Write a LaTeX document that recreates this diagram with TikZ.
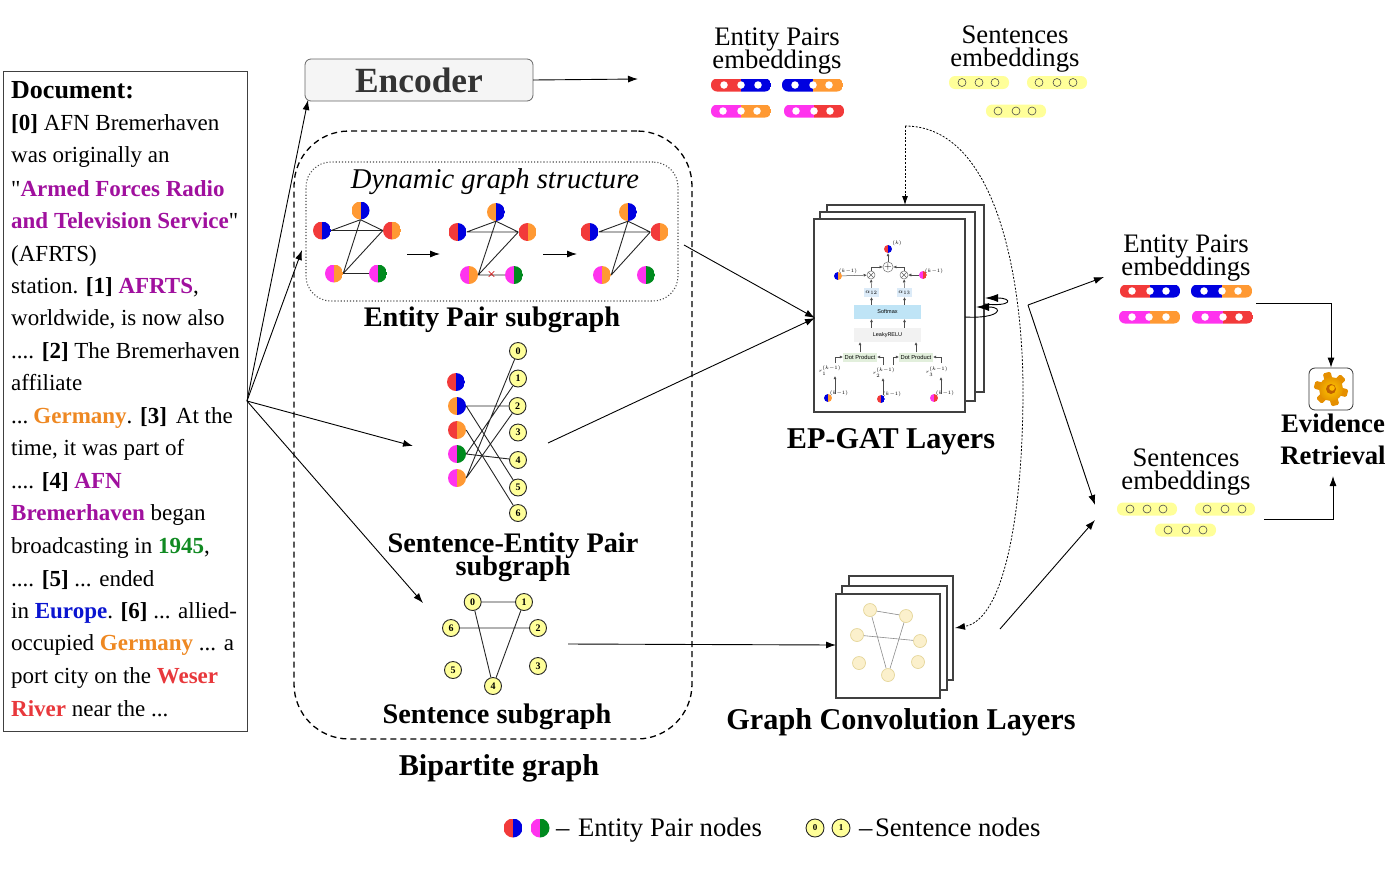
\documentclass[tikz,border=0pt]{standalone}
\usepackage{fontspec}
\setmainfont{Liberation Serif}
\setsansfont{Liberation Sans}
\newfontfamily\plainq{Liberation Serif}
\usetikzlibrary{arrows.meta,calc}
\definecolor{cR}{HTML}{F23A3A}
\definecolor{cB}{HTML}{0000E0}
\definecolor{cO}{HTML}{FF9933}
\definecolor{cM}{HTML}{FF33EE}
\definecolor{cG}{HTML}{008A1E}
\definecolor{cY}{HTML}{FFFF99}
\definecolor{tP}{HTML}{A0109E}
\definecolor{tO}{HTML}{EE8822}
\definecolor{tG}{HTML}{118A22}
\definecolor{tB}{HTML}{0A14D0}
\definecolor{tR}{HTML}{E8383C}
\definecolor{sky}{HTML}{BFE4F6}
\definecolor{skyb}{HTML}{DCEBF8}
\definecolor{mint}{HTML}{E2EFDC}
\definecolor{gcf}{HTML}{FBF0CC}
\definecolor{gcd}{HTML}{E5D69A}
\newcommand\fsz[1]{\fontsize{#1}{#1}\selectfont}
\newcommand\cpur[1]{\textcolor{tP}{\textbf{#1}}}
\newcommand\cora[1]{\textcolor{tO}{\textbf{#1}}}
\newcommand\cgrn[1]{\textcolor{tG}{\textbf{#1}}}
\newcommand\cblu[1]{\textcolor{tB}{\textbf{#1}}}
\newcommand\cred[1]{\textcolor{tR}{\textbf{#1}}}
\newcommand\sq{{\plainq "}}
\tikzset{
 halves/.style 2 args={path picture={
   \fill[#1,sharp corners] (path picture bounding box.north west) rectangle (path picture bounding box.south);
   \fill[#2,sharp corners] (path picture bounding box.north) rectangle (path picture bounding box.south east);}},
 epn/.style={circle,inner sep=0pt,minimum size=18pt},
 epl/.style={circle,inner sep=0pt,minimum size=19pt},
 epg/.style={circle,inner sep=0pt,minimum size=8pt},
 sn/.style={circle,draw=black!85,line width=0.9pt,fill=cY,inner sep=0pt,minimum size=17pt,font=\fsz{10}\bfseries},
 bar/.style={rectangle,rounded corners=6pt,inner sep=0pt,minimum height=13pt},
 dotw/.style={circle,fill=white,inner sep=0pt,minimum size=7.5pt},
 doty/.style={circle,draw=black!70,line width=0.6pt,fill=none,inner sep=0pt,minimum size=8pt},
 txt/.style={inner sep=0pt,anchor=base,font=\fsz{26.7}},
 btxt/.style={inner sep=0pt,anchor=base,font=\fsz{28.3}\bfseries},
 bbtxt/.style={inner sep=0pt,anchor=base,font=\fsz{30.2}\bfseries},
 etxt/.style={inner sep=0pt,anchor=base,font=\fsz{26.7}\bfseries},
 dl/.style={anchor=base west,inner sep=0pt,font=\fsz{23}},
 arr/.style={-{Latex[length=10pt,width=7pt]},line width=0.9pt},
 edge/.style={line width=0.9pt,black!85},
 gate/.style={circle,draw=black!55,fill=white,inner sep=0pt,minimum size=8pt,line width=0.5pt},
 tiny/.style={-{Latex[length=3pt,width=3pt]},line width=0.5pt,black!70},
 tinyt/.style={inner sep=0pt,font=\fsz{5.5}},
 stk/.style={draw=black!75,line width=1.1pt,fill=white,inner sep=0pt},
 gc/.style={circle,draw=gcd,line width=0.7pt,fill=gcf,inner sep=0pt,minimum size=13pt},
 gce/.style={line width=0.6pt,black!45},
}
% rectangle-like node from corners
\newcommand\rectn[6]{\pgfmathsetmacro\wa{#4-#2}\pgfmathsetmacro\ha{#5-#3}%
 \node[#6,rectangle,minimum width=\wa pt,minimum height=\ha pt] (#1) at ({(#2+#4)/2},{(#3+#5)/2}) {};}
% embedding bar
\newcommand\embar[9]{\pgfmathsetmacro\wa{#3-#2}%
 \node[bar,halves={#5}{#6},minimum width=\wa pt] (#1) at ({(#2+#3)/2},#4) {};
 \node[dotw] (#1a) at (#7,#4) {};\node[dotw] (#1b) at (#8,#4) {};\node[dotw] (#1c) at (#9,#4) {};}
\newcommand\sembar[7]{\pgfmathsetmacro\wa{#3-#2}%
 \node[bar,fill=cY,minimum width=\wa pt] (#1) at ({(#2+#3)/2},#4) {};
 \node[doty] (#1a) at (#5,#4) {};\node[doty] (#1b) at (#6,#4) {};\node[doty] (#1c) at (#7,#4) {};}
% dynamic graph
\newcommand\dyn[6]{% prefix, top x,y offset
 \node[epn,halves={cO}{cB}] (#1t) at (#2,#3) {};
 \node[epn,halves={cR}{cB}] (#1l) at ({#2-38.5},{#3+20}) {};
 \node[epn,halves={cR}{cO}] (#1r) at ({#2+31.5},{#3+20}) {};
 \node[epn,halves={cM}{cO}] (#1p) at ({#2-#4},{#3+63}) {};
 \node[epn,halves={cM}{cG}] (#1q) at ({#2+#5},{#3+63}) {};
 \draw[edge] (#1t.south)--(#1l.east) (#1l.east)--(#1r.west) (#1t.south)--(#1r.west)
   (#1t.south)--(#1p.east) (#1r.west)--(#1p.east) #6;}
\begin{document}
\begin{tikzpicture}[x=1pt,y=-1pt]
\useasboundingbox (0,0) rectangle (1400,879);
% Document
\rectn{docbox}{3}{71}{247}{731}{draw=black!75,line width=0.9pt}
\node[dl,font=\fsz{26}\bfseries] (d00) at (11,98) {Document:};
\node[dl] (d01) at (11,130.7) {\textbf{[0]} AFN Bremerhaven};
\node[dl] (d02) at (11,162.7) {was originally an};
\node[dl] (d03) at (11,196) {\sq\cpur{Armed Forces Radio}};
\node[dl] (d04) at (11,228) {\cpur{and Television Service}\sq};
\node[dl] (d05) at (11,261) {(AFRTS)};
\node[dl] (d06) at (11,293) {station. \textbf{[1]} \cpur{AFRTS},};
\node[dl] (d07) at (11,325.7) {worldwide, is now also};
\node[dl] (d08) at (11,358) {.... \textbf{[2]} The Bremerhaven};
\node[dl] (d09) at (11,390.7) {affiliate};
\node[dl] (d10) at (11,423) {...\hspace{5pt}\cora{Germany}. \textbf{[3]}\hspace{9pt}At the};
\node[dl] (d11) at (11,455) {time, it was part of};
\node[dl] (d12) at (11,488) {.... \textbf{[4]} \cpur{AFN}};
\node[dl] (d13) at (11,520) {\cpur{Bremerhaven} began};
\node[dl] (d14) at (11,553) {broadcasting in \cgrn{1945},};
\node[dl] (d15) at (11,586) {.... \textbf{[5]} ... ended};
\node[dl] (d16) at (11,618) {in \cblu{Europe}. \textbf{[6]} ... allied-};
\node[dl] (d17) at (11,650) {occupied \cora{Germany} ... a};
\node[dl] (d18) at (11,683) {port city on the \cred{Weser}};
\node[dl] (d19) at (11,716) {\cred{River} near the ...};
% Encoder
\node[rectangle,rounded corners=6pt,draw=black!60,line width=0.8pt,fill=black!4,minimum width=228pt,minimum height=42pt,inner sep=0pt,font=\fsz{35.4}\bfseries,text=black!80] (enc) at (419,80) {\raisebox{-4pt}{Encoder}};
% Containers
\rectn{bip}{294}{131}{692}{739}{draw=black,line width=1.3pt,dash pattern=on 6pt off 4pt,rounded corners=55pt}
\rectn{dynbox}{306}{162}{678}{301}{draw=black!70,line width=1.1pt,dotted,rounded corners=25pt}
\node[inner sep=0pt,anchor=base,font=\fsz{28.6}\itshape] (dyt) at (495,188) {Dynamic graph structure};
% Dynamic graphs
\dyn{a}{360.5}{210.5}{26.5}{17.5}{(ap.east)--(aq.west)}
\dyn{b}{496}{212}{27}{18}{(bp.east)--(bq.west)}
\dyn{c}{628}{212}{26}{18}{}
\node[inner sep=0pt,font=\fsz{15},text=red!80!black] (xm) at (491.5,275) {×};
\coordinate (a1) at (407,254);\coordinate (a2) at (440,254);
\coordinate (a3) at (543,254);\coordinate (a4) at (577,254);
\draw[arr] (a1)--(a2);\draw[arr] (a3)--(a4);
\node[btxt] (eps) at (492,326) {Entity Pair subgraph};
% Sentence-Entity Pair subgraph
\node[epn,halves={cR}{cB}] (e0) at (456,382) {};
\node[epn,halves={cO}{cB}] (e1) at (457,406) {};
\node[epn,halves={cR}{cO}] (e2) at (457,430) {};
\node[epn,halves={cM}{cG}] (e3) at (457,454) {};
\node[epn,halves={cM}{cO}] (e4) at (457,478) {};
\node[sn] (s0) at (518,351) {0};
\node[sn] (s1) at (518,378.5) {1};
\node[sn] (s2) at (517.5,406) {2};
\node[sn] (s3) at (518,432.5) {3};
\node[sn] (s4) at (518,460) {4};
\node[sn] (s5) at (518,487.5) {5};
\node[sn] (s6) at (518,513) {6};
\draw[edge] (e1.east)--(s2) (e1.east)--(s5) (e2.east)--(s6) (e3.east)--(s1) (e3.east)--(s4) (e4.east)--(s0) (e4.east)--(s2);
\node[btxt] (sep1) at (513,552) {Sentence-Entity Pair};
\node[btxt] (sep2) at (513,575) {subgraph};
% Sentence subgraph
\node[sn] (g0) at (472.7,602) {0};
\node[sn] (g1) at (524,602) {1};
\node[sn] (g6) at (451,628) {6};
\node[sn] (g2) at (538,628) {2};
\node[sn] (g5) at (453,670) {5};
\node[sn] (g3) at (538,666) {3};
\node[sn] (g4) at (493,686) {4};
\draw[edge] (g0)--(g1) (g6)--(g2) (g0)--(g4) (g1)--(g4);
\node[btxt] (ss) at (497,723) {Sentence subgraph};
\node[bbtxt] (bg) at (499,775) {Bipartite graph};
% Top embeddings
\node[txt] (te1) at (777,45) {Entity Pairs};
\node[txt] (te2) at (777,68) {embeddings};
\embar{ta}{711}{771}{85}{cR}{cB}{724}{741}{758}
\embar{tb}{782}{843}{85}{cB}{cO}{795}{813}{829}
\embar{tc}{711}{771}{111}{cM}{cO}{723}{741}{757}
\embar{td}{784}{844}{111}{cM}{cR}{796}{814}{830}
\node[txt] (ts1) at (1015,43) {Sentences};
\node[txt] (ts2) at (1015,66.5) {embeddings};
\sembar{sa}{949}{1009}{82.5}{962}{979}{995}
\sembar{sb}{1027}{1087}{82.5}{1039}{1057}{1073}
\sembar{sc}{986}{1046}{111}{998}{1016}{1032}
% EP-GAT stack
\rectn{ep3}{827}{205}{984}{392}{stk}
\rectn{ep2}{820}{212}{975}{401}{stk}
\rectn{ep1}{814}{219}{965}{412}{stk}
\node[epg,halves={cR}{cB}] (top) at (888,249) {};
\node[tinyt] (topl) at (897,243) {$\scriptstyle(k)$};
\node[gate] (plus) at (888,267) {$+$};
\node[gate] (t1) at (871,275) {};
\node[gate] (t2) at (904,275) {};
\draw[line width=0.4pt,black!60] (t1.north west)--(t1.south east) (t1.north east)--(t1.south west) (t2.north west)--(t2.south east) (t2.north east)--(t2.south west);
\node[epg,halves={cB}{cO}] (nl) at (838,276) {};
\node[tinyt] (nll) at (848,271) {$\scriptstyle(k-1)$};
\node[epg,halves={cM}{cR}] (nr) at (923,275) {};
\node[tinyt] (nrl) at (934,271) {$\scriptstyle(k-1)$};
\node[fill=skyb,minimum width=15pt,minimum height=9pt,inner sep=0pt,font=\fsz{6.5}] (al1) at (871.5,292.5) {$\alpha_{12}$};
\node[fill=skyb,minimum width=15pt,minimum height=9pt,inner sep=0pt,font=\fsz{6.5}] (al2) at (904.5,292.5) {$\alpha_{13}$};
\node[fill=sky,minimum width=67pt,minimum height=14pt,inner sep=0pt,font=\fsz{5.5}\sffamily] (soft) at (887.5,312) {Softmax};
\node[fill=black!5,minimum width=67pt,minimum height=14pt,inner sep=0pt,font=\fsz{5.5}\sffamily] (leak) at (887.5,335) {LeakyRELU};
\node[fill=mint,minimum width=34pt,minimum height=9pt,inner sep=0pt,font=\fsz{5.8}\sffamily] (dp1) at (860,357) {Dot Product};
\node[fill=mint,minimum width=34pt,minimum height=9pt,inner sep=0pt,font=\fsz{5.8}\sffamily] (dp2) at (916,357) {Dot Product};
\node[tinyt] (r1) at (830,371) {$\scriptstyle r_1^{(k-1)}$};
\node[tinyt] (r2) at (884,373) {$\scriptstyle r_2^{(k-1)}$};
\node[tinyt] (r3) at (937,372) {$\scriptstyle r_3^{(k-1)}$};
\node[epg,halves={cB}{cO}] (b1) at (828,398) {};
\node[epg,halves={cR}{cB}] (b2) at (881,399) {};
\node[epg,halves={cM}{cR}] (b3) at (934,398) {};
\node[tinyt] (b1l) at (839,393) {$\scriptstyle(k-1)$};
\node[tinyt] (b2l) at (892,394) {$\scriptstyle(k-1)$};
\node[tinyt] (b3l) at (945,393) {$\scriptstyle(k-1)$};
\draw[tiny] (plus)--(top);
\draw[tiny] (nl)--(t1);\draw[tiny] (nr)--(t2);
\draw[tiny] (t1.north)|-(plus.west);\draw[tiny] (t2.north)|-(plus.east);
\draw[tiny] (al1)--(t1);\draw[tiny] (al2)--(t2);
\draw[tiny] (soft.north-|al1)--(al1);\draw[tiny] (soft.north-|al2)--(al2);
\draw[tiny] (leak.north-|al1)--(soft.south-|al1);\draw[tiny] (leak.north-|al2)--(soft.south-|al2);
\draw[tiny] (dp1)--(dp1|-leak.south);\draw[tiny] (dp2)--(dp2|-leak.south);
\coordinate (r1u) at (835,363);\coordinate (r2u) at (883,365);\coordinate (r2v) at (893,365);\coordinate (r3u) at (941,363);
\draw[tiny] (r1u)|-(dp1.west);\draw[tiny] (r2u)|-(dp1.east);\draw[tiny] (r2v)|-(dp2.west);\draw[tiny] (r3u)|-(dp2.east);
\draw[tiny] (b1.north-|r1u)--(r1u|-r1.south);
\draw[tiny] (b2.north-|r2u)--(r2u|-r2.south);
\draw[tiny] (b3.north-|r3u)--(r3u|-r3.south);
\node[bbtxt] (epgat) at (891,448) {EP-GAT Layers};
% Self loops
\coordinate (l1) at (965,317);\coordinate (l2) at (976,307);\coordinate (l3) at (984,304);\coordinate (l4) at (985,298);
\draw[-{Latex[length=13pt,width=8pt]},line width=0.9pt] (l1)..controls (1000,319) and (1005,307)..(l2);
\draw[-{Latex[length=13pt,width=8pt]},line width=0.9pt] (l3)..controls (1013,307) and (1013,298)..(l4);
% GCN stack
\rectn{gc3}{849}{576}{953}{680}{stk}
\rectn{gc2}{842}{586}{947}{690}{stk}
\rectn{gc1}{836}{594}{940}{698}{stk}
\node[gc] (c0) at (870,610) {};
\node[gc] (c1) at (906,616) {};
\node[gc] (c6) at (857,635) {};
\node[gc] (c2) at (920,641) {};
\node[gc] (c5) at (859,663) {};
\node[gc] (c3) at (918,662) {};
\node[gc] (c4) at (888,675) {};
\draw[gce] (c0)--(c1) (c6)--(c2) (c0)--(c4) (c1)--(c4);
\node[bbtxt] (gcl) at (901,729) {Graph Convolution Layers};
% Dotted feedback
\coordinate (fb) at (905,126);
\coordinate (fb2) at (955,628);
\draw[-{Latex[length=9pt,width=6pt]},line width=0.8pt,dash pattern=on 2pt off 1.6pt] (fb)--(905,205);
\draw[-{Latex[length=10pt,width=7pt]},line width=0.8pt,dash pattern=on 2pt off 1.6pt] (fb)..controls (1000,126) and (1023,290)..(1023,390)..controls (1023,510) and (1005,620)..(fb2);
% Right embeddings
\node[txt] (re1) at (1186,252.5) {Entity Pairs};
\node[txt] (re2) at (1186,275.5) {embeddings};
\embar{ra}{1120}{1180}{291}{cR}{cB}{1132}{1150}{1166}
\embar{rb}{1191}{1252}{291}{cB}{cO}{1204}{1222}{1238}
\embar{rc}{1119}{1180}{317}{cM}{cO}{1132}{1149}{1166}
\embar{rd}{1192}{1253}{317}{cM}{cR}{1205}{1223}{1239}
\node[txt] (rs1) at (1186,466.5) {Sentences};
\node[txt] (rs2) at (1186,489.3) {embeddings};
\sembar{qa}{1117}{1177}{509}{1130}{1147}{1163}
\sembar{qb}{1195}{1255}{509}{1207}{1225}{1242}
\sembar{qc}{1155}{1216}{530}{1168}{1186}{1203}
% Evidence retrieval
\rectn{icon}{1309}{368}{1353}{410}{draw=black!80,line width=0.8pt,fill=white,rounded corners=6pt}
\foreach \ang in {0,60,...,300}{\fill[rotate around={\ang+15:(1331,389)},color=orange!75!yellow!90!black,rounded corners=1.5pt] (1327,372) rectangle (1335,382);}
\shade[inner color=yellow!55!orange,outer color=orange!70!yellow!90!black] (1331,389) circle[radius=12pt];
\fill[orange!75!black] (1331,389) circle[radius=5pt];
\fill[orange!55!yellow] (1332,388) circle[radius=2.8pt];
\node[etxt] (ev1) at (1333,432) {Evidence};
\node[etxt] (ev2) at (1333,464) {Retrieval};
% Main connectors
\coordinate (docout) at (247,401);
\coordinate (eIn) at (308,100);
\coordinate (dynIn) at (302,250);
\coordinate (sepIn) at (413,446);
\coordinate (ssIn) at (423,603);
\draw[arr] (docout)--(eIn);
\draw[arr] (docout)--(dynIn);
\draw[arr] (docout)--(sepIn);
\draw[arr] (docout)--(ssIn);
\coordinate (encE) at (533,80);\coordinate (encT) at (638,79);
\draw[arr] (encE)--(encT);
\coordinate (dynOut) at (684,245);\coordinate (sepOut) at (548,443);\coordinate (epIn) at (815,318);
\draw[arr] (dynOut)--(epIn);\draw[arr] (sepOut)--(epIn);
\coordinate (ssOut) at (568,644);\coordinate (gcIn) at (836,645);
\draw[arr] (ssOut)--(gcIn);
\coordinate (fork) at (1028,305);\coordinate (rE) at (1104,277);\coordinate (rS) at (1095,505);
\draw[arr] (fork)--(rE);\draw[arr] (fork)--(rS);
\coordinate (gcOut) at (1000,629);\coordinate (rS2) at (1095,520);
\draw[arr] (gcOut)--(rS2);
\coordinate (eOut) at (1256,303);\coordinate (sOut) at (1264,519);\coordinate (evB) at (1333,476);
\draw[arr] (eOut)-|(icon.north);
\draw[arr] (sOut)-|(evB);
% Legend
\node[epl,halves={cR}{cB}] (lg1) at (513,828) {};
\node[epl,halves={cM}{cG}] (lg2) at (540,828) {};
\node[txt,anchor=base west] (lg3) at (556,836) {–\hspace{8.5pt}Entity Pair nodes};
\node[sn,minimum size=18pt,font=\fsz{9}\bfseries] (lg4) at (815,828) {0};
\node[sn,minimum size=18pt,font=\fsz{9}\bfseries] (lg5) at (841,828) {1};
\node[txt,anchor=base west] (lg6) at (859,836) {–\hspace{2.5pt}Sentence nodes};
\end{tikzpicture}
\end{document}
